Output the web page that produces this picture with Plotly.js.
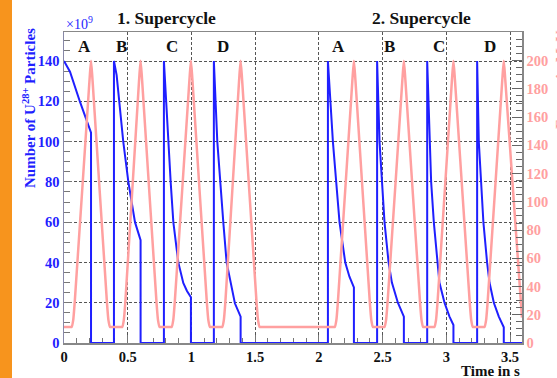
<!DOCTYPE html>
<html>
<head>
<meta charset="utf-8">
<script src="https://cdn.plot.ly/plotly-3.0.1.min.js"></script>
<style>
html,body{margin:0;padding:0;background:#fff;}
#chart{width:557px;height:378px;}
</style>
</head>
<body>
<div id="chart"></div>
<script>
// Beam intensity (x10^9 U28+ particles) vs time (s)
const blueTime = [0, 0.047, 0.125, 0.212, 0.212, 0.392, 0.392, 0.413, 0.465, 0.505, 0.557, 0.601, 0.601,
  0.784, 0.784, 0.818, 0.837, 0.858, 0.897, 0.936, 0.965, 0.996, 0.996,
  1.176, 1.176, 1.203, 1.224, 1.250, 1.276, 1.307, 1.341, 1.386, 1.386,
  2.071, 2.071, 2.110, 2.136, 2.162, 2.207, 2.240, 2.275, 2.275,
  2.457, 2.457, 2.476, 2.494, 2.515, 2.547, 2.573, 2.620, 2.667, 2.667,
  2.850, 2.850, 2.868, 2.881, 2.902, 2.928, 2.946, 2.986, 3.025, 3.056, 3.056,
  3.242, 3.242, 3.255, 3.273, 3.291, 3.320, 3.339, 3.373, 3.412, 3.451, 3.451, 3.594];
const blueParticles = [140, 134.7, 119.8, 104.4, 0, 0, 140, 133, 100, 80, 60, 51, 0,
  0, 140, 100, 80, 60, 40, 29.8, 25.8, 22.7, 0,
  0, 140, 100, 80, 60, 40, 30, 19.7, 13.1, 0,
  0, 140, 100, 80, 60, 40, 32.9, 27.6, 0,
  0, 140, 100, 80, 60, 40, 30, 20, 13.1, 0,
  0, 140, 100, 80, 60, 40, 30, 20, 13.1, 8.9, 0,
  0, 140, 100, 80, 60, 40, 30, 20, 13.1, 7.8, 0, 0];

// Energy (MeV) vs time (s)
const energyTime = [0, 0.048, 0.060, 0.072, 0.085, 0.200, 0.212, 0.224, 0.336, 0.349, 0.361, 0.373,
  0.445, 0.457, 0.469, 0.482, 0.589, 0.601, 0.613, 0.725, 0.738, 0.750, 0.762,
  0.833, 0.845, 0.857, 0.870, 0.984, 0.996, 1.008, 1.120, 1.133, 1.145, 1.157,
  1.230, 1.242, 1.254, 1.267, 1.374, 1.386, 1.398, 1.510, 1.523, 1.535, 1.547,
  2.113, 2.125, 2.137, 2.150, 2.263, 2.275, 2.287, 2.399, 2.412, 2.424, 2.436,
  2.503, 2.515, 2.527, 2.540, 2.655, 2.667, 2.679, 2.793, 2.806, 2.818, 2.830,
  2.895, 2.907, 2.919, 2.932, 3.044, 3.056, 3.068, 3.183, 3.196, 3.208, 3.220,
  3.288, 3.300, 3.312, 3.325, 3.439, 3.451, 3.463, 3.594];
const energyMeV = [11.4, 11.4, 11.4, 16, 30, 186, 200, 186, 30, 16, 11.4, 11.4,
  11.4, 11.4, 16, 30, 186, 200, 186, 30, 16, 11.4, 11.4,
  11.4, 11.4, 16, 30, 186, 200, 186, 30, 16, 11.4, 11.4,
  11.4, 11.4, 16, 30, 186, 200, 186, 30, 16, 11.4, 11.4,
  11.4, 11.4, 16, 30, 186, 200, 186, 30, 16, 11.4, 11.4,
  11.4, 11.4, 16, 30, 186, 200, 186, 30, 16, 11.4, 11.4,
  11.4, 11.4, 16, 30, 186, 200, 186, 30, 16, 11.4, 11.4,
  11.4, 11.4, 16, 30, 186, 200, 186, 18];

const xTickVals = [0, 0.5, 1, 1.5, 2, 2.5, 3, 3.5];
const xTickText = ["0", "0.5", "1", "1.5", "2", "2.5", "3", "3.5"];
const leftTickVals = [0, 20, 40, 60, 80, 100, 120, 140];
const rightTickVals = [0, 20, 40, 60, 80, 100, 120, 140, 160, 180, 200];
const supercycleLabels = ["1. Supercycle", "2. Supercycle"];
const cycleLabels = ["A", "B", "C", "D", "A", "B", "C", "D"];

const SERIF = "Liberation Serif, Times New Roman, serif";
const BLUE = "#1f1fff";
const PINK = "#ffa0a0";

const traces = [
  {x: energyTime, y: energyMeV, yaxis: "y2", type: "scatter", mode: "lines",
   line: {color: PINK, width: 2.5, shape: "spline", smoothing: 0.6}, hoverinfo: "skip"},
  {x: blueTime, y: blueParticles, type: "scatter", mode: "lines",
   line: {color: BLUE, width: 2}, hoverinfo: "skip"}
];

// layout geometry (plot area in px)
const L = 64, R = 35, T = 32, B = 35, W = 557, H = 378;
const pw = W - L - R, ph = H - T - B;
const px = v => (v - L) / pw;
const py = v => (H - B - v) / ph;

const cyclePx = [84, 121, 172, 223, 338, 389, 439, 490];
const annotations = [];
annotations.push({xref: "paper", yref: "paper", x: px(166), y: py(18), text: "<b>" + supercycleLabels[0] + "</b>",
  showarrow: false, xanchor: "center", yanchor: "middle", font: {family: SERIF, size: 17.5, color: "#111"}});
annotations.push({xref: "paper", yref: "paper", x: px(421), y: py(18), text: "<b>" + supercycleLabels[1] + "</b>",
  showarrow: false, xanchor: "center", yanchor: "middle", font: {family: SERIF, size: 17.5, color: "#111"}});
cycleLabels.forEach((c, i) => annotations.push({xref: "paper", yref: "paper", x: px(cyclePx[i]), y: py(47),
  text: "<b>" + c + "</b>", showarrow: false, xanchor: "center", yanchor: "middle",
  font: {family: SERIF, size: 17, color: "#111"}}));
annotations.push({xref: "paper", yref: "paper", x: px(64), y: py(23), text: "×10<sup>9</sup>",
  showarrow: false, xanchor: "left", yanchor: "middle", font: {family: SERIF, size: 14, color: BLUE}});
annotations.push({xref: "paper", yref: "paper", x: px(522), y: py(371), text: "<b>Time in s</b>",
  showarrow: false, xanchor: "right", yanchor: "middle", font: {family: SERIF, size: 15, color: "#111"}});
annotations.push({xref: "paper", yref: "paper", x: px(29), y: py(108), text: "<b>Number of U<sup>28+</sup> Particles</b>",
  showarrow: false, textangle: -90, xanchor: "center", yanchor: "middle", font: {family: SERIF, size: 15, color: BLUE}});
annotations.push({xref: "paper", yref: "paper", x: px(561), y: py(80), text: "<b>Energy in MeV</b>",
  showarrow: false, textangle: -90, xanchor: "center", yanchor: "middle", font: {family: SERIF, size: 15, color: PINK}});

const layout = {
  width: W, height: H,
  margin: {l: L, r: R, t: T, b: B, pad: 0},
  paper_bgcolor: "#fff", plot_bgcolor: "#fff",
  showlegend: false,
  xaxis: {range: [0, 3.594], showline: true, linecolor: "#888", linewidth: 1.5, mirror: true,
    ticks: "inside", tickvals: xTickVals, ticktext: xTickText, ticklen: 8, tickcolor: "#777",
    minor: {dtick: 0.1, ticks: "inside", ticklen: 5, tickcolor: "#777", showgrid: false},
    showgrid: true, gridcolor: "#555", griddash: "3px,2px", gridwidth: 1, zeroline: false,
    tickfont: {family: SERIF, size: 14.5, color: "#111", weight: "bold"}, layer: "below traces"},
  yaxis: {range: [0, 154.4], showline: true, linecolor: "#8888a8", linewidth: 1.5,
    ticks: "inside", tickvals: leftTickVals, ticklen: 8, tickcolor: "#777",
    minor: {dtick: 5, ticks: "inside", ticklen: 6, tickcolor: "#777", showgrid: false},
    showgrid: true, gridcolor: "#555", griddash: "3px,2px", gridwidth: 1, zeroline: false,
    tickfont: {family: SERIF, size: 14.5, color: BLUE, weight: "bold"}, layer: "below traces"},
  yaxis2: {range: [0, 220.3], overlaying: "y", side: "right", showline: true, linecolor: "#888", linewidth: 1.5,
    ticks: "inside", tickvals: rightTickVals, ticklen: 10, tickcolor: "#666",
    minor: {dtick: 5, ticks: "inside", ticklen: 6, tickcolor: "#666", showgrid: false},
    showgrid: false, zeroline: false,
    tickfont: {family: SERIF, size: 14.5, color: PINK, weight: "bold"}},
  shapes: [{type: "rect", xref: "paper", yref: "paper", x0: px(0), x1: px(12), y0: py(H), y1: py(0),
    fillcolor: "#F7941D", line: {width: 0}, layer: "below"}],
  annotations: annotations
};

Plotly.newPlot("chart", traces, layout, {staticPlot: true, displayModeBar: false});
</script>
</body>
</html>
